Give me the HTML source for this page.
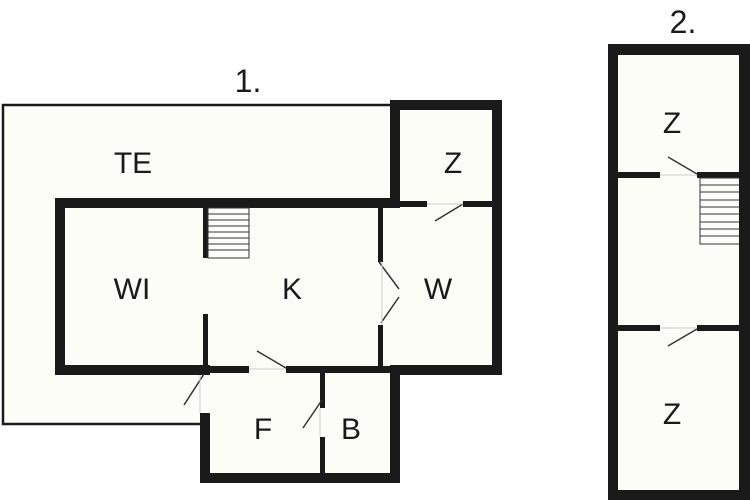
<!DOCTYPE html>
<html><head><meta charset="utf-8"><style>
html,body{margin:0;padding:0;background:#fff;}
svg{display:block;}
text{font-family:"Liberation Sans",sans-serif;fill:#1a1a1a;text-anchor:middle;}
</style></head><body>
<svg width="750" height="500" viewBox="0 0 750 500" xmlns="http://www.w3.org/2000/svg">
<!-- fills -->
<path d="M3,105 H392 V203 H60 V370 H203 V424 H3 Z" fill="#fdfdf8" stroke="#1a1a1a" stroke-width="2.5"/>
<rect x="55" y="198" width="447" height="177" fill="#fdfdf8"/>
<rect x="390" y="100" width="112" height="105" fill="#fdfdf8"/>
<rect x="200" y="370" width="200" height="113" fill="#fdfdf8"/>
<rect x="608" y="44" width="142" height="456" fill="#fdfdf8"/>
<g fill="#1a1a1a">
<!-- Z room top right -->
<rect x="390" y="100" width="112" height="10"/>
<rect x="390" y="100" width="10" height="108"/>
<rect x="492" y="100" width="10" height="275"/>
<rect x="400" y="201" width="27" height="6"/>
<rect x="463" y="201" width="30" height="6"/>
<!-- main block -->
<rect x="55" y="198" width="345" height="10"/>
<rect x="55" y="198" width="10" height="177"/>
<rect x="55" y="365" width="155" height="10"/>
<rect x="210" y="366" width="39" height="7"/>
<rect x="286" y="366" width="114" height="7"/>
<rect x="390" y="365" width="112" height="10"/>
<rect x="378" y="208" width="5" height="54"/>
<rect x="378" y="325" width="5" height="42"/>
<rect x="203" y="208" width="5" height="50"/>
<rect x="203" y="314" width="5" height="61"/>
<!-- F/B -->
<rect x="200" y="413" width="10" height="70"/>
<rect x="200" y="473" width="200" height="10"/>
<rect x="390" y="370" width="10" height="113"/>
<rect x="320" y="373" width="5" height="35"/>
<rect x="320" y="437" width="5" height="38"/>
<!-- building 2 -->
<rect x="608" y="44" width="142" height="11"/>
<rect x="608" y="44" width="10" height="456"/>
<rect x="739" y="44" width="11" height="456"/>
<rect x="608" y="490" width="142" height="10"/>
<rect x="618" y="172" width="42" height="6"/>
<rect x="697" y="172" width="42" height="6"/>
<rect x="618" y="325" width="42" height="6"/>
<rect x="697" y="325" width="42" height="6"/>
</g>
<g stroke="#333" stroke-width="1.5" fill="none">
<line x1="463" y1="204" x2="435" y2="221"/>
<line x1="286" y1="368" x2="257" y2="351"/>
<line x1="379" y1="262" x2="399" y2="289"/>
<line x1="399" y1="297" x2="381" y2="323"/>
<line x1="204" y1="374" x2="184" y2="405"/>
<line x1="322" y1="400" x2="303" y2="428"/>
<line x1="697" y1="174" x2="668" y2="157"/>
<line x1="697" y1="329" x2="668" y2="346"/>
</g>
<g stroke="#ccc" stroke-width="1" fill="none">
<line x1="200" y1="375" x2="200" y2="413"/>
<line x1="320" y1="408" x2="320" y2="437"/>
<line x1="382" y1="262" x2="382" y2="325"/>
<line x1="249" y1="369" x2="286" y2="369"/>
<line x1="427" y1="204" x2="463" y2="204"/>
<line x1="660" y1="175" x2="697" y2="175"/>
<line x1="660" y1="328" x2="697" y2="328"/>
</g>
<!-- stairs 1 -->
<g stroke="#333" stroke-width="1" fill="none">
<rect x="208" y="208" width="41" height="50"/>
<line x1="208" y1="214" x2="249" y2="214"/><line x1="208" y1="220" x2="249" y2="220"/>
<line x1="208" y1="226" x2="249" y2="226"/><line x1="208" y1="232" x2="249" y2="232"/>
<line x1="208" y1="238" x2="249" y2="238"/><line x1="208" y1="244" x2="249" y2="244"/>
<line x1="208" y1="250" x2="249" y2="250"/>
<!-- stairs 2 -->
<polyline points="739,178 700,178 700,244 739,244"/>
<line x1="700" y1="185" x2="739" y2="185"/><line x1="700" y1="192" x2="739" y2="192"/>
<line x1="700" y1="200" x2="739" y2="200"/><line x1="700" y1="207" x2="739" y2="207"/>
<line x1="700" y1="214" x2="739" y2="214"/><line x1="700" y1="222" x2="739" y2="222"/>
<line x1="700" y1="229" x2="739" y2="229"/><line x1="700" y1="236" x2="739" y2="236"/>
</g>
<text x="248" y="92" font-size="32">1.</text>
<text x="683" y="33" font-size="32">2.</text>
<text x="133" y="173" font-size="30">TE</text>
<text x="453" y="173" font-size="30">Z</text>
<text x="132" y="299" font-size="30">WI</text>
<text x="292" y="299" font-size="30">K</text>
<text x="438" y="299" font-size="30">W</text>
<text x="263" y="439" font-size="30">F</text>
<text x="351" y="439" font-size="30">B</text>
<text x="672" y="133" font-size="30">Z</text>
<text x="672" y="424" font-size="30">Z</text>
</svg>
</body></html>
